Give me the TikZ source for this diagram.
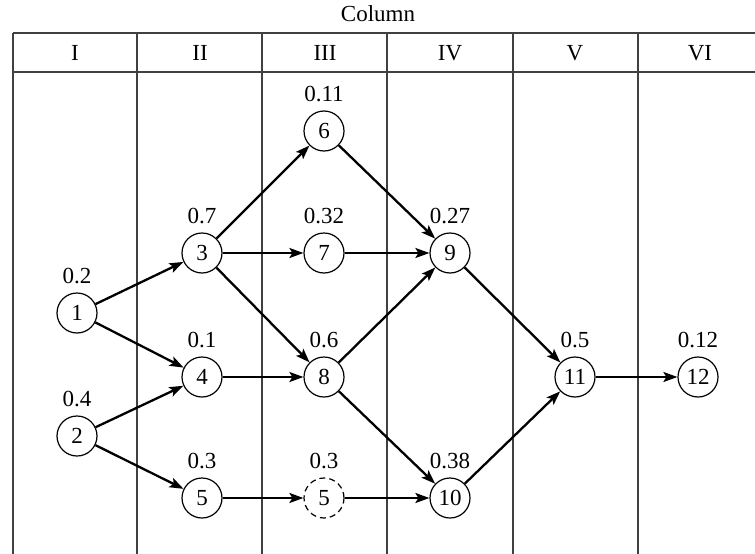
\documentclass[tikz,border=0pt]{standalone}
\usepackage{fontspec}
\setmainfont{Liberation Serif}
\usetikzlibrary{arrows.meta}
\begin{document}
\begin{tikzpicture}[x=1pt,y=-1pt,
  every node/.style={font=\fontsize{23}{27}\selectfont},
  stnode/.style={circle,draw,line width=1.2pt,minimum size=40pt,inner sep=0pt},
  dnode/.style={stnode,dash pattern=on 6pt off 4pt},
  prob/.style={label={[inner sep=0pt,label distance=8pt]above:#1}},
  grid/.style={line width=1.3pt,draw=black!75},
  arr/.style={line width=2.3pt,-{Stealth[length=14pt,width=10pt,inset=3pt]}}]
\useasboundingbox (0,0) rectangle (755,554);
\begin{scope}
\clip (0,0) rectangle (755,554);
% table
\draw[grid] (13,33) -- (763,33);
\draw[grid] (13,72) -- (763,72);
\foreach \x in {13,137,262,387,513,638,763}
  \draw[grid] (\x,33) -- (\x,560);
\end{scope}
\node (title) at (378,14) {Column};
\node (h1) at (75,53) {I};
\node (h2) at (200,53) {II};
\node (h3) at (325,53) {III};
\node (h4) at (450,53) {IV};
\node (h5) at (575,53) {V};
\node (h6) at (700,53) {VI};
% nodes
\node[stnode,prob=0.2] (n1) at (77,313) {1};
\node[stnode,prob=0.4] (n2) at (77,436) {2};
\node[stnode,prob=0.7] (n3) at (202,253) {3};
\node[stnode,prob=0.1] (n4) at (202,377) {4};
\node[stnode,prob=0.3] (n5) at (202,498) {5};
\node[stnode,prob=0.11] (n6) at (324,131) {6};
\node[stnode,prob=0.32] (n7) at (324,253) {7};
\node[stnode,prob=0.6] (n8) at (324,377) {8};
\node[dnode,prob=0.3] (n5b) at (324,498) {5};
\node[stnode,prob=0.27] (n9) at (450,253) {9};
\node[stnode,prob=0.38] (n10) at (450,498) {10};
\node[stnode,prob=0.5] (n11) at (575,377) {11};
\node[stnode,prob=0.12] (n12) at (698,377) {12};
% edges
\draw[arr] (n1) -- (n3);
\draw[arr] (n1) -- (n4);
\draw[arr] (n2) -- (n4);
\draw[arr] (n2) -- (n5);
\draw[arr] (n3) -- (n6);
\draw[arr] (n3) -- (n7);
\draw[arr] (n3) -- (n8);
\draw[arr] (n4) -- (n8);
\draw[arr] (n5) -- (n5b);
\draw[arr] (n6) -- (n9);
\draw[arr] (n7) -- (n9);
\draw[arr] (n8) -- (n9);
\draw[arr] (n8) -- (n10);
\draw[arr] (n5b) -- (n10);
\draw[arr] (n9) -- (n11);
\draw[arr] (n10) -- (n11);
\draw[arr] (n11) -- (n12);
\end{tikzpicture}
\end{document}
